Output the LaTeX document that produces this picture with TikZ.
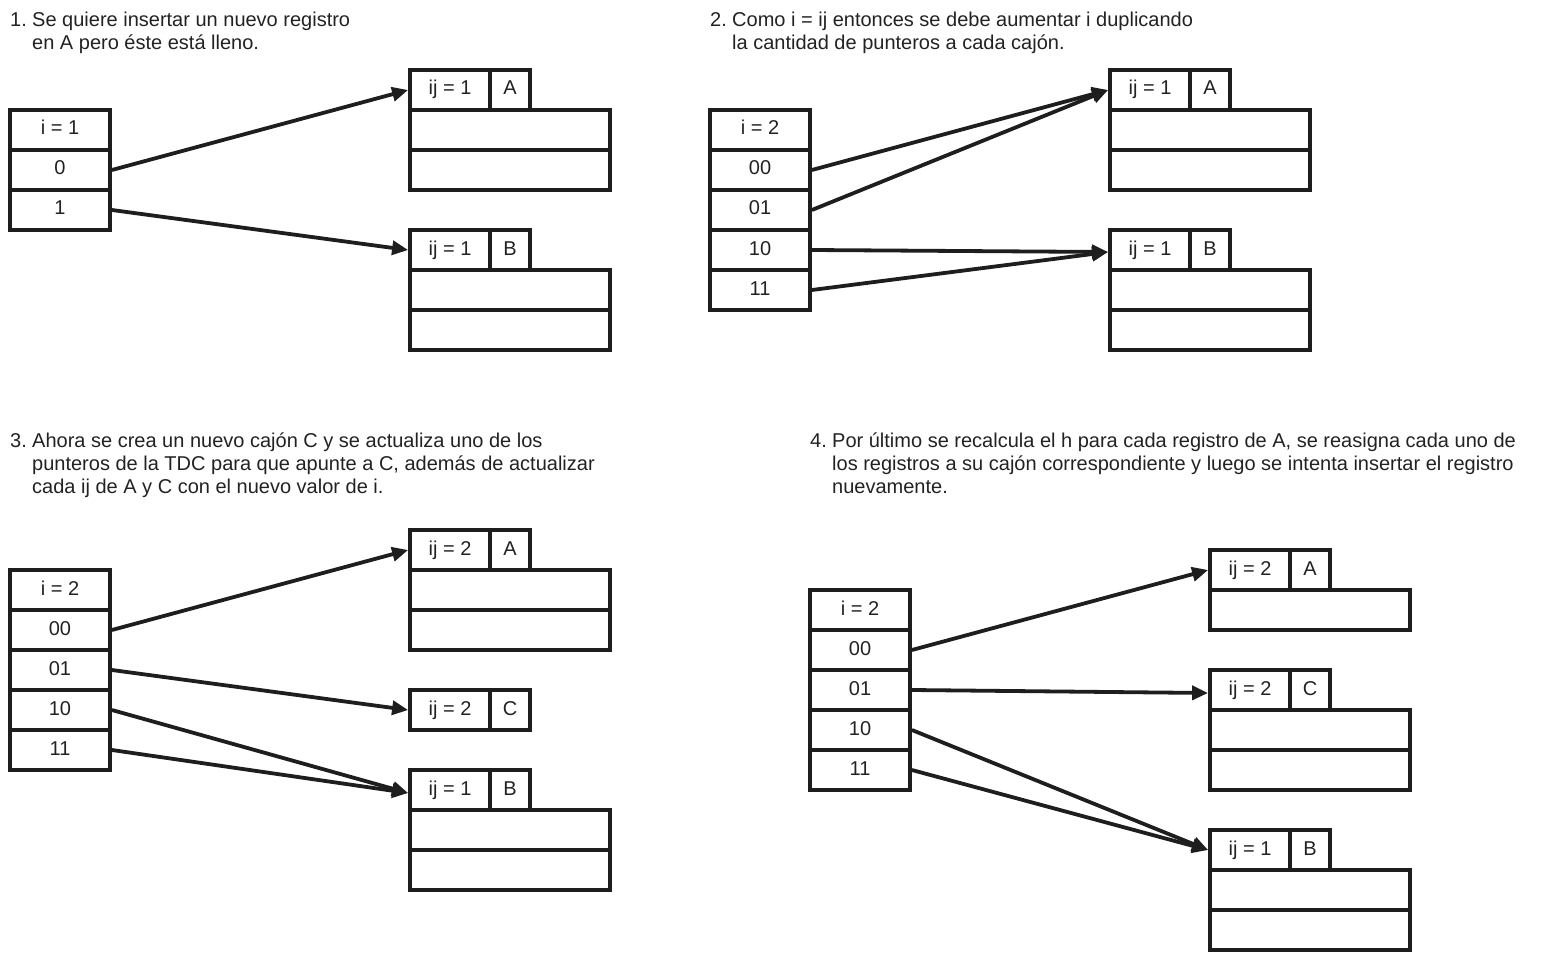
\documentclass[tikz,border=0pt]{standalone}
\usepackage{fontspec}
\setmainfont{Liberation Sans}
\usetikzlibrary{arrows.meta}
\definecolor{ink}{RGB}{30,30,30}
\definecolor{txt}{RGB}{34,34,34}
\tikzset{
  cell/.style={draw=ink, line width=3.8pt, minimum height=40pt, inner sep=0pt, text=txt, text height=15pt, text depth=5pt, font=\fontsize{20}{23}\selectfont},
  tcell/.style={cell, minimum width=100pt},
  hcell/.style={cell, minimum width=80pt},
  lcell/.style={cell, minimum width=40pt},
  bcell/.style={cell, minimum width=200pt},
  ptr/.style={draw=ink, line width=3.8pt, -{Triangle[length=16pt,width=14pt]}},
  desc/.style={anchor=base west, inner sep=0pt, text=txt, font=\fontsize{20}{23}\selectfont},
}
\newcommand\Bkt[6]{%
  \node[hcell] (#1h) at (#2+40,#3+20) {#4};
  \node[lcell] (#1l) at (#2+100,#3+20) {#5};
  \ifnum#6>0 \foreach \j in {1,...,#6} {\node[bcell] (#1r\j) at (#2+100,#3+20+40*\j) {};}\fi
}
\begin{document}
\begin{tikzpicture}[x=1pt,y=-1pt]
\useasboundingbox (0,0) rectangle (1545,960);
% ---------- Panel 1
\node[desc] (n1) at (10,27) {1.};
\node[desc] (d1a) at (32,27) {Se quiere insertar un nuevo registro};
\node[desc] (d1b) at (32,50) {en A pero éste está lleno.};
\foreach \t [count=\k from 0] in {{i = 1},0,1} \node[tcell] (p1t\k) at (60,130+40*\k) {\t};
\Bkt{p1a}{410}{70}{ij = 1}{A}{2}
\Bkt{p1b}{410}{230}{ij = 1}{B}{2}
\draw[ptr] (p1t1.east) -- (p1ah.west);
\draw[ptr] (p1t2.east) -- (p1bh.west);
% ---------- Panel 2
\node[desc] (n2) at (710,27) {2.};
\node[desc] (d2a) at (732,27) {Como i = ij entonces se debe aumentar i duplicando};
\node[desc] (d2b) at (732,50) {la cantidad de punteros a cada cajón.};
\foreach \t [count=\k from 0] in {{i = 2},00,01,10,11} \node[tcell] (p2t\k) at (760,130+40*\k) {\t};
\Bkt{p2a}{1110}{70}{ij = 1}{A}{2}
\Bkt{p2b}{1110}{230}{ij = 1}{B}{2}
\draw[ptr] (p2t1.east) -- (p2ah.west);
\draw[ptr] (p2t2.east) -- (p2ah.west);
\draw[ptr] (p2t3.east) -- ([yshift=-2pt]p2bh.west);
\draw[ptr] (p2t4.east) -- ([yshift=-2pt]p2bh.west);
% ---------- Panel 3
\node[desc] (n3) at (10,447) {3.};
\node[desc] (d3a) at (32,447) {Ahora se crea un nuevo cajón C y se actualiza uno de los};
\node[desc] (d3b) at (32,470) {punteros de la TDC para que apunte a C, además de actualizar};
\node[desc] (d3c) at (32,493) {cada ij de A y C con el nuevo valor de i.};
\foreach \t [count=\k from 0] in {{i = 2},00,01,10,11} \node[tcell] (p3t\k) at (60,590+40*\k) {\t};
\Bkt{p3a}{410}{530}{ij = 2}{A}{2}
\Bkt{p3c}{410}{690}{ij = 2}{C}{0}
\Bkt{p3b}{410}{770}{ij = 1}{B}{2}
\draw[ptr] (p3t1.east) -- (p3ah.west);
\draw[ptr] (p3t2.east) -- (p3ch.west);
\draw[ptr] (p3t3.east) -- ([yshift=-3pt]p3bh.west);
\draw[ptr] (p3t4.east) -- ([yshift=-3pt]p3bh.west);
% ---------- Panel 4
\node[desc] (n4) at (810,447) {4.};
\node[desc] (d4a) at (832,447) {Por último se recalcula el h para cada registro de A, se reasigna cada uno de};
\node[desc] (d4b) at (832,470) {los registros a su cajón correspondiente y luego se intenta insertar el registro};
\node[desc] (d4c) at (832,493) {nuevamente.};
\foreach \t [count=\k from 0] in {{i = 2},00,01,10,11} \node[tcell] (p4t\k) at (860,610+40*\k) {\t};
\Bkt{p4a}{1210}{550}{ij = 2}{A}{1}
\Bkt{p4c}{1210}{670}{ij = 2}{C}{2}
\Bkt{p4b}{1210}{830}{ij = 1}{B}{2}
\draw[ptr] (p4t1.east) -- (p4ah.west);
\draw[ptr] (p4t2.east) -- ([yshift=-3pt]p4ch.west);
\draw[ptr] (p4t3.east) -- (p4bh.west);
\draw[ptr] (p4t4.east) -- (p4bh.west);
\end{tikzpicture}
\end{document}
